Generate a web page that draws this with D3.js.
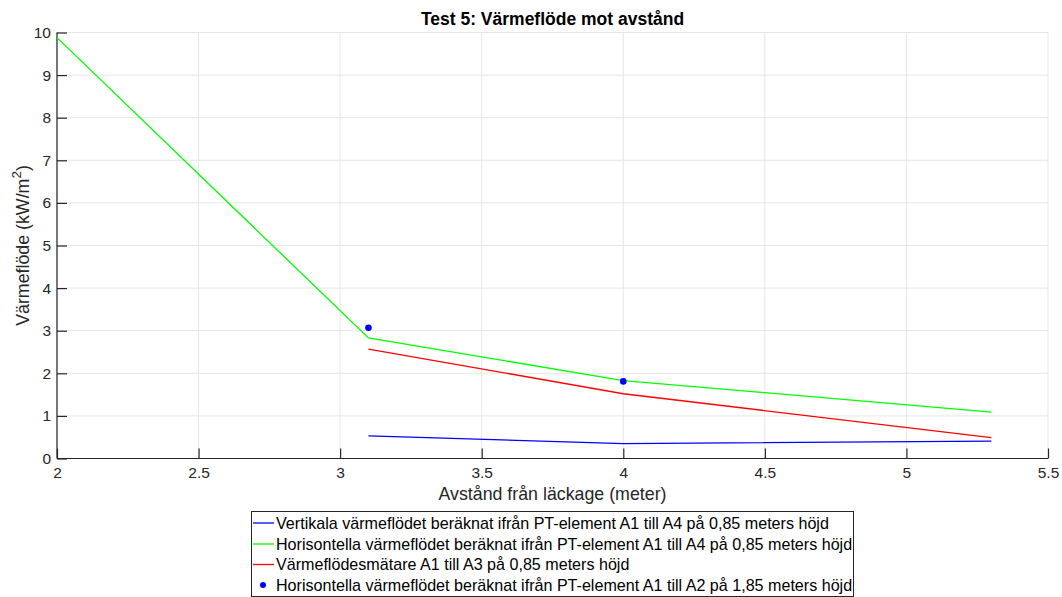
<!DOCTYPE html>
<html>
<head>
<meta charset="utf-8">
<script src="https://cdn.jsdelivr.net/npm/d3@7"></script>
<style>
  html, body { margin: 0; padding: 0; background: #fff; }
  svg { display: block; font-family: "Liberation Sans", Arial, sans-serif; }
</style>
</head>
<body>
<svg id="chart" width="1062" height="597"></svg>
<script>
// Heat flux versus distance from leak, test 5
const xTicks = [2, 2.5, 3, 3.5, 4, 4.5, 5, 5.5];
const yTicks = [0, 1, 2, 3, 4, 5, 6, 7, 8, 9, 10];

const verticalX = [3.1, 4, 5.3];
const verticalY = [0.53, 0.35, 0.41];

const horizontalX = [2, 3.1, 4, 5.3];
const horizontalY = [9.88, 2.83, 1.83, 1.09];

const meterX = [3.1, 4, 5.3];
const meterY = [2.57, 1.52, 0.49];

const upperX = [3.1, 4];
const upperY = [3.07, 1.81];

const legendLabels = [
  "Vertikala värmeflödet beräknat ifrån PT-element A1 till A4 på 0,85 meters höjd",
  "Horisontella värmeflödet beräknat ifrån PT-element A1 till A4 på 0,85 meters höjd",
  "Värmeflödesmätare A1 till A3 på 0,85 meters höjd",
  "Horisontella värmeflödet beräknat ifrån PT-element A1 till A2 på 1,85 meters höjd"
];

const svg = d3.select("#chart");
const plotLeft = 57, plotRight = 1048, plotTop = 32.5, plotBottom = 458.5;

const x = d3.scaleLinear().domain([2, 5.5]).range([plotLeft, plotRight]);
const y = d3.scaleLinear().domain([0, 10]).range([plotBottom, plotTop]);

const axisColor = "#262626";

// grid
const grid = svg.append("g");
grid.selectAll("line.gx").data(xTicks).join("line")
  .attr("x1", d => x(d)).attr("x2", d => x(d))
  .attr("y1", plotTop).attr("y2", plotBottom)
  .attr("stroke", "#e6e6e6").attr("stroke-width", 1);
grid.selectAll("line.gy").data(yTicks).join("line")
  .attr("x1", plotLeft).attr("x2", plotRight)
  .attr("y1", d => y(d)).attr("y2", d => y(d))
  .attr("stroke", "#e6e6e6").attr("stroke-width", 1);

// axes
const xAxis = d3.axisBottom(x).tickValues(xTicks).tickSize(-10).tickPadding(16)
  .tickFormat(d => d3.format("")(d));
const yAxis = d3.axisLeft(y).tickValues(yTicks).tickSize(-10).tickPadding(6)
  .tickFormat(d3.format("d"));

const gx = svg.append("g").attr("transform", `translate(0,${plotBottom})`).call(xAxis);
const gy = svg.append("g").attr("transform", `translate(${plotLeft},0)`).call(yAxis);
[gx, gy].forEach(g => {
  g.select(".domain").attr("stroke", axisColor).attr("stroke-width", 1.2);
  g.selectAll(".tick line").attr("stroke", axisColor).attr("stroke-width", 1.2);
  g.selectAll(".tick text").attr("fill", axisColor)
    .style("font-family", '"Liberation Sans", Arial, sans-serif').style("font-size", "15.5px");
});
gy.select(".domain").attr("d", `M0,${plotBottom}V${plotTop}`);
gx.select(".domain").attr("d", `M${plotLeft},0H${plotRight}`);
gy.selectAll(".tick line").attr("x1", 0).attr("x2", 10);
gx.selectAll(".tick line").attr("y1", 0).attr("y2", -10);
gx.selectAll(".tick text").attr("dy", "0.2em");

// series lines
const line = d3.line().x(d => x(d[0])).y(d => y(d[1]));
const series = [
  { xs: verticalX, ys: verticalY, color: "#0000ff" },
  { xs: horizontalX, ys: horizontalY, color: "#00ff00" },
  { xs: meterX, ys: meterY, color: "#ff0000" }
];
series.forEach(s => {
  svg.append("path")
    .datum(s.xs.map((v, i) => [v, s.ys[i]]))
    .attr("d", line)
    .attr("fill", "none")
    .attr("stroke", s.color)
    .attr("stroke-width", 1.3);
});

svg.append("g").selectAll("circle")
  .data(upperX.map((v, i) => [v, upperY[i]]))
  .join("circle")
  .attr("cx", d => x(d[0])).attr("cy", d => y(d[1]))
  .attr("r", 3.3).attr("fill", "#0000ff");

// title and axis labels
svg.append("text")
  .attr("x", (plotLeft + plotRight) / 2).attr("y", 25)
  .attr("text-anchor", "middle")
  .style("font-size", "17.5px").style("font-weight", "bold")
  .attr("fill", "#000")
  .text("Test 5: Värmeflöde mot avstånd");

svg.append("text")
  .attr("x", (plotLeft + plotRight) / 2).attr("y", 500)
  .attr("text-anchor", "middle")
  .style("font-size", "17.8px")
  .attr("fill", axisColor)
  .text("Avstånd från läckage (meter)");

const yl = svg.append("text")
  .attr("transform", `translate(29,${(plotTop + plotBottom) / 2}) rotate(-90)`)
  .attr("text-anchor", "middle")
  .style("font-size", "17.8px")
  .attr("fill", axisColor);
yl.append("tspan").text("Värmeflöde (kW/m");
yl.append("tspan").attr("dy", -8).style("font-size", "13.5px").text("2");
yl.append("tspan").attr("dy", 8).text(")");

// legend
const lg = svg.append("g");
lg.append("rect")
  .attr("x", 251.5).attr("y", 511.5).attr("width", 602).attr("height", 85)
  .attr("fill", "#fff").attr("stroke", axisColor).attr("stroke-width", 1);
const legendColors = ["#0000ff", "#00ff00", "#ff0000", "#0000ff"];
const rowY = [523, 544, 564.5, 585];
legendLabels.forEach((lab, i) => {
  if (i < 3) {
    lg.append("line").attr("x1", 253).attr("x2", 274)
      .attr("y1", rowY[i]).attr("y2", rowY[i])
      .attr("stroke", legendColors[i]).attr("stroke-width", 1.3);
  } else {
    lg.append("circle").attr("cx", 263).attr("cy", rowY[i]).attr("r", 3).attr("fill", legendColors[i]);
  }
  lg.append("text").attr("x", 276).attr("y", rowY[i]).attr("dy", "0.35em")
    .style("font-size", "16.1px").attr("fill", "#000").text(lab);
});
</script>
</body>
</html>
